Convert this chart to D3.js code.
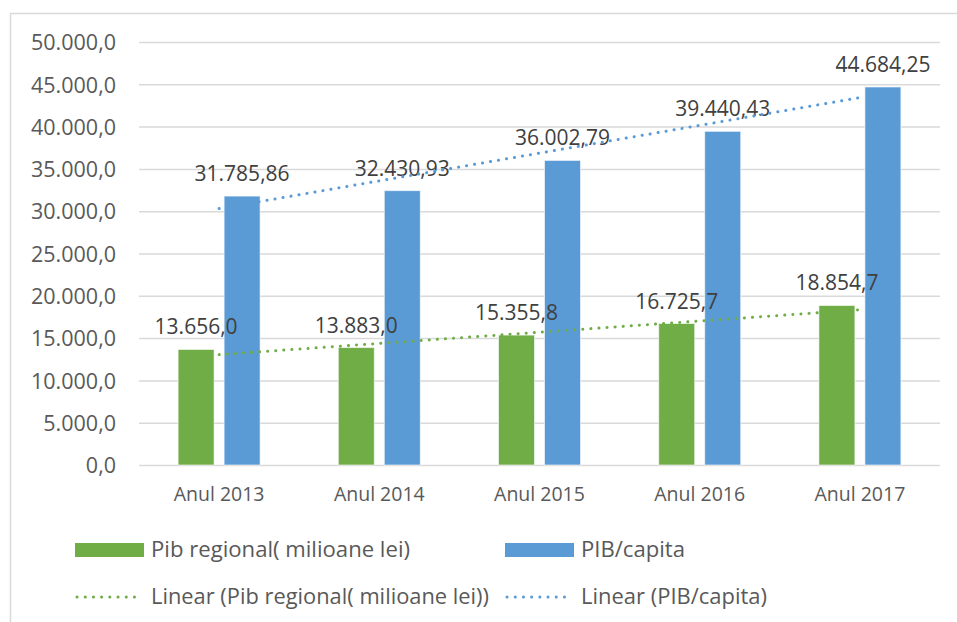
<!DOCTYPE html>
<html lang="ro">
<head>
<meta charset="UTF-8">
<title>PIB regional</title>
<script src="https://cdn.jsdelivr.net/npm/d3@7"></script>
<style>
  body { margin: 0; background: #fff; }
  svg { display: block; font-family: "Open Sans", sans-serif; }
  .grid line { stroke: #d9d9d9; stroke-width: 1.5px; }
  .grid path { display: none; }
  .tick text { fill: #595959; font-size: 21.5px; font-family: "Open Sans", sans-serif; }
  .xaxis .tick text { font-size: 19.5px; }
  .lbl { fill: #404040; font-size: 21px; text-anchor: middle; }
  .legend text { fill: #595959; font-size: 21px; }
</style>
</head>
<body>
<div id="chart"></div>
<script>
// data
const years = ["Anul 2013", "Anul 2014", "Anul 2015", "Anul 2016", "Anul 2017"];
const pibRegional = [13656.0, 13883.0, 15355.8, 16725.7, 18854.7];
const pibCapita = [31785.86, 32430.93, 36002.79, 39440.43, 44684.25];
const regionalLabels = ["13.656,0", "13.883,0", "15.355,8", "16.725,7", "18.854,7"];
const capitaLabels = ["31.785,86", "32.430,93", "36.002,79", "39.440,43", "44.684,25"];
const yTicks = [0, 5000, 10000, 15000, 20000, 25000, 30000, 35000, 40000, 45000, 50000];

const W = 957, H = 622;
const green = "#70ad47", blue = "#5b9bd5";

const svg = d3.select("#chart").append("svg")
    .attr("width", W).attr("height", H);

// outer chart border (left + top)
svg.append("path")
    .attr("d", "M10.5," + H + "V13.5H957")
    .attr("fill", "none").attr("stroke", "#d9d9d9").attr("stroke-width", 1.5);

const plotL = 139, plotR = 940, plotT = 42, plotB = 465;

const x = d3.scaleBand().domain(years).range([plotL, plotR]);
const y = d3.scaleLinear().domain([0, 50000]).range([plotB, plotT]);

const fmt = v => d3.format(",.1f")(v).replace(/,/g, "#").replace(".", ",").replace(/#/g, ".");

// gridlines + y labels
svg.append("g").attr("class", "grid")
    .attr("transform", "translate(" + plotL + ",0)")
    .call(d3.axisLeft(y).tickValues(yTicks).tickSize(-(plotR - plotL)).tickFormat(fmt).tickPadding(23))
    .selectAll(".tick text").attr("dy", "0.36em");

// x labels
svg.append("g").attr("class", "xaxis")
    .attr("transform", "translate(0," + plotB + ")")
    .call(d3.axisBottom(x).tickSize(0).tickPadding(22))
    .call(g => g.select(".domain").remove())
    .selectAll("text").attr("dy", "0.71em");

const barW = 36, gap = 10;
const xs = [-(gap / 2) - barW, gap / 2];
const bars = svg.append("g");
const labelsG = svg.append("g");

function drawSeries(vals, labels, color, off) {
  bars.append("g").selectAll("rect").data(vals).join("rect")
      .attr("x", (d, i) => x(years[i]) + x.bandwidth() / 2 + off)
      .attr("y", d => y(d))
      .attr("width", barW)
      .attr("height", d => plotB - y(d))
      .attr("fill", color)
      .attr("stroke", "#fff").attr("stroke-opacity", 0.6).attr("stroke-width", 1);
  labelsG.append("g").selectAll("text").data(vals).join("text")
      .attr("class", "lbl")
      .attr("x", (d, i) => x(years[i]) + x.bandwidth() / 2 + off + barW / 2)
      .attr("y", d => y(d) - 15)
      .text((d, i) => labels[i]);
}
drawSeries(pibRegional, regionalLabels, green, xs[0]);
drawSeries(pibCapita, capitaLabels, blue, xs[1]);

// linear trendlines (least squares over 1..n)
function trend(vals) {
  const n = vals.length, idx = vals.map((d, i) => i + 1);
  const mx = d3.mean(idx), my = d3.mean(vals);
  const b = d3.sum(idx, (t, i) => (t - mx) * (vals[i] - my)) / d3.sum(idx, t => (t - mx) ** 2);
  const a = my - b * mx;
  return [1, n].map(t => [t, a + b * t]);
}
const xc = t => x(years[t - 1]) + x.bandwidth() / 2;
const line = d3.line().x(d => xc(d[0])).y(d => y(d[1]));
[[pibRegional, green], [pibCapita, blue]].forEach(([vals, c]) => {
  svg.append("path")
      .attr("d", line(trend(vals)))
      .attr("fill", "none").attr("stroke", c).attr("stroke-width", 3)
      .attr("stroke-linecap", "round").attr("stroke-dasharray", "0.1 8");
});

// legend
const legend = svg.append("g").attr("class", "legend");
const items = [
  { name: "Pib regional( milioane lei)", color: green, type: "rect", x: 75, y: 550, w: 259 },
  { name: "PIB/capita", color: blue, type: "rect", x: 505, y: 550, w: 104 },
  { name: "Linear (Pib regional( milioane lei))", color: green, type: "line", x: 75, y: 597, w: 338 },
  { name: "Linear (PIB/capita)", color: blue, type: "line", x: 505, y: 597, w: 186 }
];
items.forEach(it => {
  if (it.type === "rect") {
    legend.append("rect").attr("x", it.x).attr("y", it.y - 7).attr("width", 69).attr("height", 14).attr("fill", it.color);
  } else {
    legend.append("line").attr("x1", it.x + 2).attr("x2", it.x + 67).attr("y1", it.y).attr("y2", it.y)
        .attr("stroke", it.color).attr("stroke-width", 3).attr("stroke-linecap", "round").attr("stroke-dasharray", "0.1 8.1");
  }
  legend.append("text").attr("x", it.x + 76).attr("y", it.y).attr("dy", "0.35em")
      .attr("textLength", it.w).attr("lengthAdjust", "spacingAndGlyphs").text(it.name);
});
</script>
</body>
</html>
